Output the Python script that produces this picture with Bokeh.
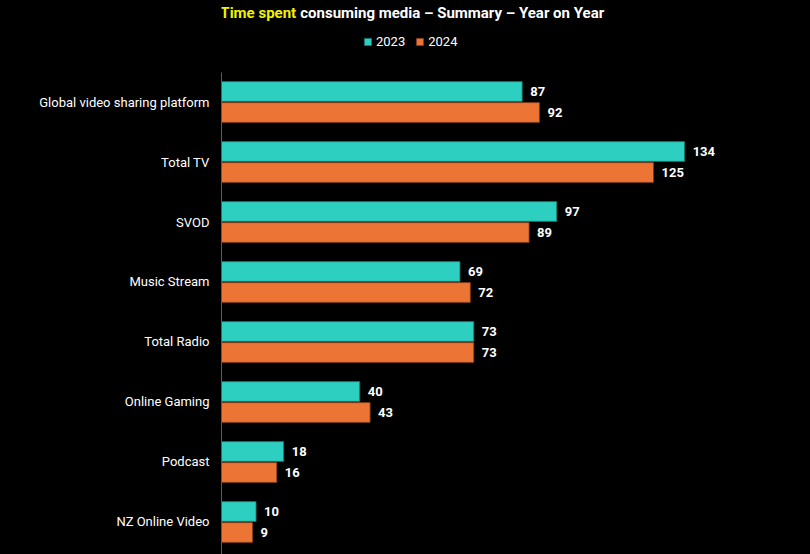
from bokeh.plotting import figure
from bokeh.models import (Range1d, FixedTicker, ColumnDataSource, Label, Legend,
                          LegendItem)
from bokeh.transform import dodge
from bokeh.embed import file_html
from bokeh.resources import INLINE
from bokeh.core.properties import value

categories = ["Global video sharing platform", "Total TV", "SVOD", "Music Stream",
              "Total Radio", "Online Gaming", "Podcast", "NZ Online Video"]
v2023 = [87, 134, 97, 69, 73, 40, 18, 10]
v2024 = [92, 125, 89, 72, 73, 43, 16, 9]
series = ["2023", "2024"]

TEAL = "#2ccfc0"
ORANGE = "#ec7434"
FONT = "Roboto"

n = len(categories)
ypos = list(range(n, 0, -1))

src = ColumnDataSource(dict(
    y=ypos, cat=categories, v2023=v2023, v2024=v2024,
    t2023=[str(v) for v in v2023], t2024=[str(v) for v in v2024],
))

ybot = 0.4583
ytop_axis = 8.4917
p = figure(width=810, height=554, output_backend="svg", toolbar_location=None,
           x_range=Range1d(0, 160), y_range=Range1d(ybot, ytop_axis + 72 / 60),
           min_border_left=221, min_border_right=36, min_border_top=0,
           min_border_bottom=0, outline_line_color=None)
p.styles = {"background-color": "black"}
p.background_fill_color = "black"
p.border_fill_color = "black"
p.grid.visible = False
p.xaxis.visible = False

yax = p.yaxis[0]
yax.ticker = FixedTicker(ticks=ypos)
yax.bounds = (ybot, ytop_axis)
yax.major_label_overrides = {y: c for y, c in zip(ypos, categories)}
yax.major_tick_line_color = None
yax.major_tick_out = 0
yax.major_tick_in = 0
yax.minor_tick_line_color = None
yax.minor_tick_out = 0
yax.axis_line_color = "#5a5a5a"
yax.axis_line_width = 1
yax.major_label_text_color = "white"
yax.major_label_text_font = FONT
yax.major_label_text_font_size = "13px"
yax.major_label_standoff = 12

off = 0.175
h = 0.33
r23 = p.hbar(y=dodge("y", off), right="v2023", left=0, height=h, source=src,
             fill_color=TEAL, line_color="#1a6f68", line_width=0.8)
r24 = p.hbar(y=dodge("y", -off), right="v2024", left=0, height=h, source=src,
             fill_color=ORANGE, line_color="#7a3a18", line_width=0.8)

for col, tcol, o in (("v2023", "t2023", off), ("v2024", "t2024", -off)):
    p.text(x=col, y=dodge("y", o), text=tcol, source=src, x_offset=8,
           text_align="left", text_baseline="middle", text_color="white",
           text_font=value(FONT), text_font_style="bold", text_font_size="13px")

# Title (two colours)
ty = 9.483
p.add_layout(Label(x=21.6, y=ty, text="Time spent", text_align="right",
                   text_baseline="middle", text_color="#f2f200", text_font=FONT,
                   text_font_style="bold", text_font_size="15px"))
p.add_layout(Label(x=22.8, y=ty, text="consuming media – Summary – Year on Year",
                   text_align="left", text_baseline="middle", text_color="white",
                   text_font=FONT, text_font_style="bold", text_font_size="15px"))

legend = Legend(items=[LegendItem(label=series[0], renderers=[r23]),
                       LegendItem(label=series[1], renderers=[r24])],
                orientation="horizontal", location=(142, 505),
                glyph_width=9, glyph_height=9, label_standoff=4, spacing=10,
                padding=0, margin=0, label_height=16,
                label_text_color="white", label_text_font=FONT,
                label_text_font_size="13px",
                background_fill_alpha=0, border_line_alpha=0)
p.add_layout(legend, "center")

open("out.html", "w").write(file_html(p, INLINE))
